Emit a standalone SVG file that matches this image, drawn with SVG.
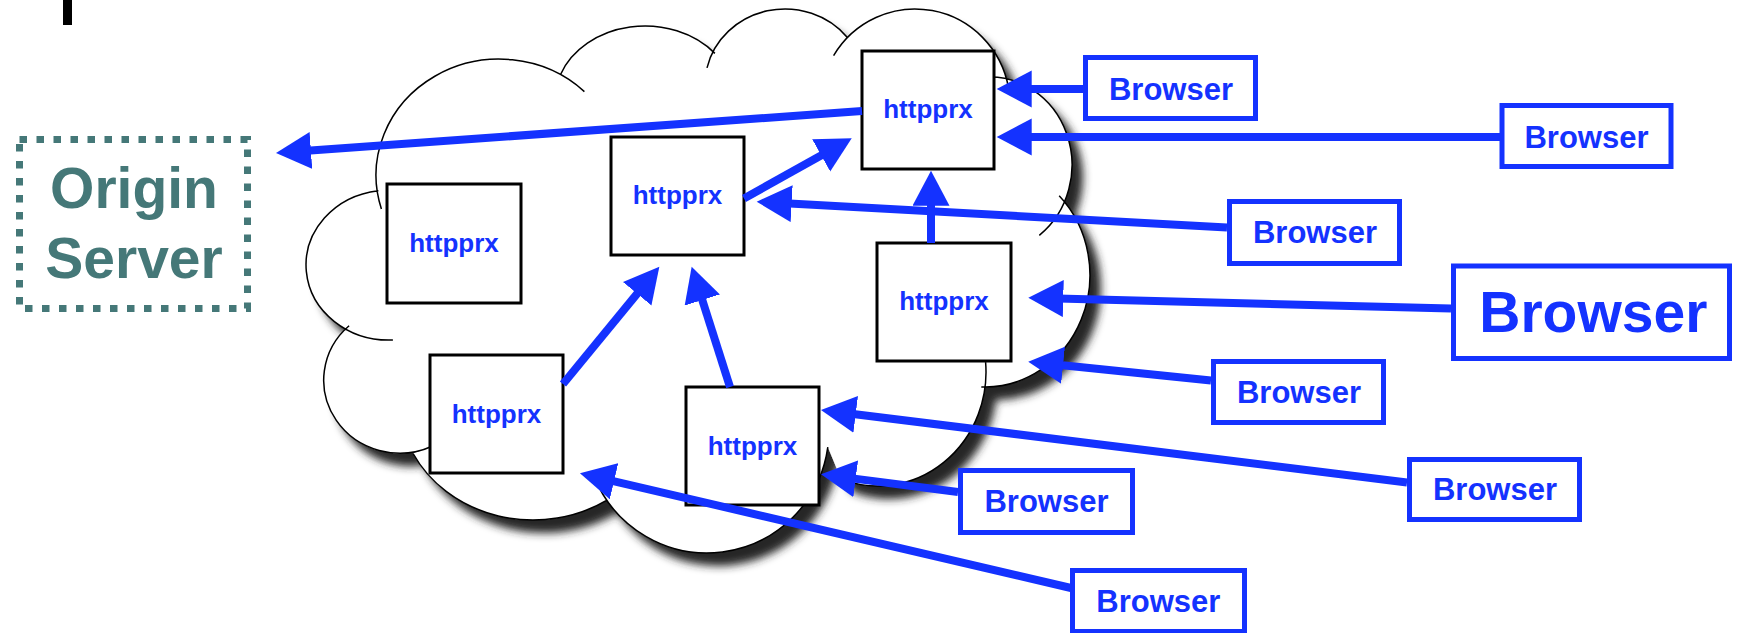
<svg xmlns="http://www.w3.org/2000/svg" width="1741" height="633" viewBox="0 0 1741 633">
  <defs>
    <style>
      .cloud-fill { fill: #ffffff; }
      .cloud-line { fill: none; stroke: #000000; stroke-width: 1.5; }
      .proxy rect { fill: #ffffff; stroke: #000000; stroke-width: 3; }
      .proxy text { font-family: "Liberation Sans", Arial, sans-serif; font-weight: bold; font-size: 26px; fill: #1432ff; text-anchor: middle; }
      .browser rect { fill: #ffffff; stroke: #1432ff; stroke-width: 5; }
      .browser text { font-family: "Liberation Sans", Arial, sans-serif; font-weight: bold; font-size: 31px; fill: #1432ff; text-anchor: middle; }
      .browser.big text { font-size: 57px; }
      .origin rect { fill: none; stroke: #457878; stroke-width: 7; stroke-dasharray: 7.5 9.5; }
      .origin text { font-family: "Liberation Sans", Arial, sans-serif; font-weight: bold; font-size: 57px; fill: #457878; text-anchor: middle; }
      .link { fill: none; stroke: #1432ff; stroke-width: 8; marker-end: url(#head); }
    </style>
    <marker id="head" markerUnits="userSpaceOnUse" viewBox="0 0 36 38" markerWidth="36" markerHeight="38" refX="25" refY="18.5" orient="auto">
      <path d="M0,0 L35,18.5 L0,37 Z" fill="#1432ff"/>
    </marker>
    <filter id="shadow" x="-10%" y="-10%" width="130%" height="130%">
      <feGaussianBlur in="SourceAlpha" stdDeviation="4.5"/>
      <feOffset dx="11" dy="13" result="blur"/>
      <feFlood flood-color="#262626"/>
      <feComposite in2="blur" operator="in"/>
      <feMerge>
        <feMergeNode/>
        <feMergeNode in="SourceGraphic"/>
      </feMerge>
    </filter>
  </defs>

  <rect width="1741" height="633" fill="#ffffff"/>

  <!-- edge of a cut-off glyph at the top -->
  <rect x="63" y="0" width="9" height="25" fill="#000000"/>

  <!-- cloud: one closed outline for the fill, separate lobe arcs for the ink -->
  <g id="cloud">
    <path class="cloud-fill" filter="url(#shadow)" d="M381.4,208.9 A123,116 0 0 1 584.4,91.6 L560.4,74.7 A90,74 0 0 1 714.9,53.4 L707.0,67.9 A80,76 0 0 1 847.6,37.7 L833.6,55.6 A95,96 0 0 1 1008.6,88.3 L982.9,77.3 A82,88 0 0 1 1039.3,235.3 L1059.2,195.8 A105,112 0 0 1 981.3,386.9 L985.6,362.1 A108,114 0 0 1 841.1,479.1 L827.8,447.1 A122,123 0 0 1 594.3,477.1 L607.0,500.1 A134,120 0 0 1 413.1,453.5 L432.1,446.2 A76,73 0 0 1 349.1,325.7 L392.9,340.0 A83,75 0 0 1 378.4,190.7 Z"/>
    <path class="cloud-line" d="M381.4,208.9 A123,116 0 0 1 584.4,91.6 M560.4,74.7 A90,74 0 0 1 714.9,53.4 M707.0,67.9 A80,76 0 0 1 847.6,37.7 M833.6,55.6 A95,96 0 0 1 1008.6,88.3 M982.9,77.3 A82,88 0 0 1 1039.3,235.3 M1059.2,195.8 A105,112 0 0 1 981.3,386.9 M985.6,362.1 A108,114 0 0 1 841.1,479.1 M827.8,447.1 A122,123 0 0 1 594.3,477.1 M607.0,500.1 A134,120 0 0 1 413.1,453.5 M432.1,446.2 A76,73 0 0 1 349.1,325.7 M392.9,340.0 A83,75 0 0 1 378.4,190.7"/>
  </g>

  <!-- origin server -->
  <g id="origin-server" class="origin">
    <rect x="19.5" y="139.5" width="228" height="169"/>
    <text x="134" y="208">Origin</text>
    <text x="134" y="278">Server</text>
  </g>

  <!-- proxies -->
  <g id="proxy-a" class="proxy">
    <rect x="387" y="184" width="134" height="119"/>
    <text x="454" y="252">httpprx</text>
  </g>
  <g id="proxy-b" class="proxy">
    <rect x="611" y="137" width="133" height="118"/>
    <text x="677.5" y="203.5">httpprx</text>
  </g>
  <g id="proxy-c" class="proxy">
    <rect x="862" y="51" width="132" height="118"/>
    <text x="928" y="118">httpprx</text>
  </g>
  <g id="proxy-d" class="proxy">
    <rect x="877" y="243" width="134" height="118"/>
    <text x="944" y="310">httpprx</text>
  </g>
  <g id="proxy-e" class="proxy">
    <rect x="430" y="355" width="133" height="118"/>
    <text x="496.5" y="422.5">httpprx</text>
  </g>
  <g id="proxy-f" class="proxy">
    <rect x="686" y="387" width="133" height="118"/>
    <text x="752.5" y="455">httpprx</text>
  </g>

  <!-- browsers -->
  <g id="browser-1" class="browser">
    <rect x="1085.5" y="57.5" width="170" height="61"/>
    <text x="1171" y="99.5">Browser</text>
  </g>
  <g id="browser-2" class="browser">
    <rect x="1502" y="105.5" width="169" height="61"/>
    <text x="1586.5" y="148">Browser</text>
  </g>
  <g id="browser-3" class="browser">
    <rect x="1229.5" y="201.5" width="170" height="62"/>
    <text x="1315" y="243">Browser</text>
  </g>
  <g id="browser-4" class="browser big">
    <rect x="1453.5" y="266" width="276" height="92.5"/>
    <text x="1593.3" y="331.7">Browser</text>
  </g>
  <g id="browser-5" class="browser">
    <rect x="1213.5" y="361.5" width="170" height="61"/>
    <text x="1299" y="403">Browser</text>
  </g>
  <g id="browser-6" class="browser">
    <rect x="1409.5" y="459.5" width="170" height="60"/>
    <text x="1495" y="500">Browser</text>
  </g>
  <g id="browser-7" class="browser">
    <rect x="960.5" y="470.5" width="172" height="62"/>
    <text x="1046.5" y="512">Browser</text>
  </g>
  <g id="browser-8" class="browser">
    <rect x="1072.5" y="570.5" width="172" height="61"/>
    <text x="1158.3" y="612">Browser</text>
  </g>

  <!-- connectors -->
  <g id="connectors">
    <line class="link" x1="862" y1="111" x2="286" y2="152.3"/>
    <line class="link" x1="1083" y1="89" x2="1006.7" y2="89"/>
    <line class="link" x1="1500" y1="137" x2="1006.7" y2="137"/>
    <line class="link" x1="1227" y1="227.5" x2="766.7" y2="202.25"/>
    <line class="link" x1="1451" y1="308.5" x2="1038.3" y2="297.96"/>
    <line class="link" x1="1211" y1="380.5" x2="1038.2" y2="362.7"/>
    <line class="link" x1="1407" y1="482.5" x2="830.9" y2="411.2"/>
    <line class="link" x1="958" y1="492" x2="830.9" y2="475.6"/>
    <line class="link" x1="1071" y1="588" x2="589.7" y2="475.6"/>
    <line class="link" x1="563" y1="384" x2="653" y2="274.4"/>
    <line class="link" x1="730" y1="387" x2="694.7" y2="276.2"/>
    <line class="link" x1="744" y1="198.5" x2="843" y2="143.2"/>
    <line class="link" x1="931" y1="243" x2="931" y2="180.7"/>
  </g>
</svg>
